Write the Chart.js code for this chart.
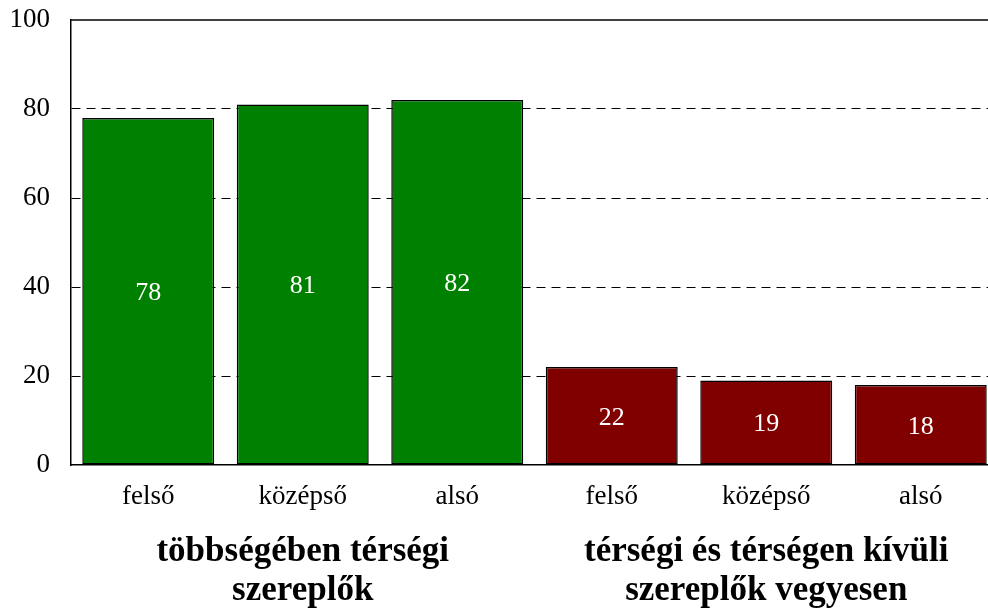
<!DOCTYPE html>
<html>
<head>
<meta charset="utf-8">
<script src="https://cdn.jsdelivr.net/npm/chart.js@4/dist/chart.umd.min.js"></script>
<style>
  html, body { margin: 0; padding: 0; background: #fff; overflow: hidden; }
  #wrap { width: 1000px; height: 609px; }
</style>
</head>
<body>
<div id="wrap"><canvas id="c" width="1000" height="609"></canvas></div>
<script>
// ---- data ----
const categories = ["felső", "középső", "alsó", "felső", "középső", "alsó"];
const values = [78, 81, 82, 22, 19, 18];
const barColors = ["#008000", "#008000", "#008000", "#800000", "#800000", "#800000"];
const groupLabels = [["többségében térségi", "szereplők"], ["térségi és térségen kívüli", "szereplők vegyesen"]];
const groupRanges = [[0, 2], [3, 5]];
const yTicks = [0, 20, 40, 60, 80, 100];

const SERIF = "'Liberation Serif', 'Times New Roman', serif";

const barValueLabels = {
  id: 'barValueLabels',
  afterDatasetsDraw(chart) {
    const ctx = chart.ctx;
    const meta = chart.getDatasetMeta(0);
    ctx.save();
    ctx.fillStyle = '#ffffff';
    ctx.font = '26px ' + SERIF;
    ctx.textAlign = 'center';
    ctx.textBaseline = 'middle';
    meta.data.forEach((el, i) => {
      const y = (el.y + el.base) / 2 + 2;
      ctx.fillText(String(values[i]), el.x, y);
    });
    ctx.restore();
  }
};

const frameAndGroups = {
  id: 'frameAndGroups',
  afterDraw(chart) {
    const ctx = chart.ctx;
    const area = chart.chartArea;
    const xs = chart.scales.x;
    ctx.save();
    // solid top frame line at 100
    ctx.strokeStyle = '#000';
    ctx.lineWidth = 1.5;
    ctx.beginPath();
    ctx.moveTo(area.left, area.top);
    ctx.lineTo(area.right, area.top);
    ctx.stroke();
    // group labels
    ctx.fillStyle = '#000';
    ctx.font = 'bold 35px ' + SERIF;
    ctx.textAlign = 'center';
    ctx.textBaseline = 'alphabetic';
    groupLabels.forEach((lines, g) => {
      const [a, b] = groupRanges[g];
      const cx = (xs.getPixelForValue(a) + xs.getPixelForValue(b)) / 2;
      lines.forEach((ln, k) => {
        ctx.fillText(ln, cx, area.bottom + 96 + k * 39);
      });
    });
    ctx.restore();
  }
};

new Chart(document.getElementById('c'), {
  type: 'bar',
  data: {
    labels: categories,
    datasets: [{
      data: values,
      backgroundColor: barColors,
      borderColor: '#000',
      borderWidth: 1.5,
      borderSkipped: false,
      barPercentage: 0.854,
      categoryPercentage: 1.0
    }]
  },
  options: {
    responsive: false,
    animation: false,
    devicePixelRatio: 1,
    layout: { padding: { top: 20, right: 2, left: 0, bottom: 0 } },
    plugins: {
      legend: { display: false },
      tooltip: { enabled: false },
      title: { display: false }
    },
    scales: {
      x: {
        grid: { display: false, drawTicks: false },
        border: { display: true, color: '#000', width: 1.5 },
        ticks: {
          color: '#000',
          font: { family: SERIF, size: 27 },
          padding: 16,
          maxRotation: 0,
          autoSkip: false
        },
        afterFit(scale) { scale.height = 144; }
      },
      y: {
        min: 0,
        max: 100,
        afterBuildTicks(scale) { scale.ticks = yTicks.map(v => ({ value: v })); },
        grid: {
          drawTicks: false,
          color: (ctx) => (ctx.tick && (ctx.tick.value === 0 || ctx.tick.value === 100)) ? 'rgba(0,0,0,0)' : '#000',
          lineWidth: 1
        },
        border: { display: true, color: '#000', width: 1.5, dash: [9, 6] },
        ticks: {
          color: '#000',
          font: { family: SERIF, size: 27 },
          padding: 21
        },
        afterFit(scale) {
          scale.width = 71;
          scale.paddingTop = 0;
          scale.paddingBottom = 0;
        }
      }
    }
  },
  plugins: [barValueLabels, frameAndGroups]
});
</script>
</body>
</html>
